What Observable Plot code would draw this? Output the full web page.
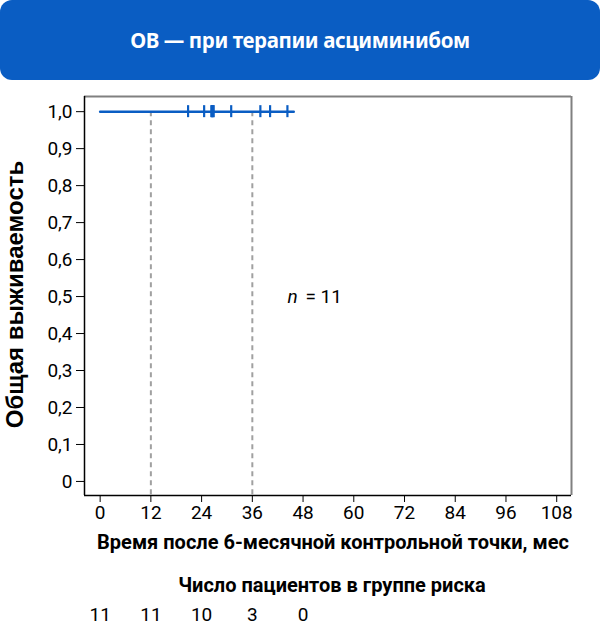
<!DOCTYPE html>
<html>
<head>
<meta charset="utf-8">
<script src="https://cdn.jsdelivr.net/npm/d3@7"></script>
<script src="https://cdn.jsdelivr.net/npm/@observablehq/plot@0.6"></script>
<style>
  html, body { margin: 0; padding: 0; background: #fff; }
  #wrap { position: relative; width: 600px; height: 629px; overflow: hidden; }
  #header {
    position: absolute; left: 0; top: 0; width: 600px; height: 80px;
    background: #0a5dc3; border-radius: 12px;
    display: flex; align-items: center; justify-content: center;
    color: #fff; font-family: "Noto Sans", sans-serif; font-weight: 700; font-size: 20.5px;
    letter-spacing: -0.4px;
  }
  #chart { position: absolute; left: 0; top: 80px; }
</style>
</head>
<body>
<div id="wrap">
  <div id="header">ОВ — при терапии асциминибом</div>
  <div id="chart"></div>
</div>
<script>
const titleText = "ОВ — при терапии асциминибом";
const yLabel = "Общая выживаемость";
const xLabel = "Время после 6-месячной контрольной точки, мес";
const riskLabel = "Число пациентов в группе риска";

const xTicks = [0, 12, 24, 36, 48, 60, 72, 84, 96, 108];
const yTicks = [0, 0.1, 0.2, 0.3, 0.4, 0.5, 0.6, 0.7, 0.8, 0.9, 1.0];
const yTickLabels = ["0", "0,1", "0,2", "0,3", "0,4", "0,5", "0,6", "0,7", "0,8", "0,9", "1,0"];

const curveTime = [0, 45.8];
const curveSurv = [1, 1];
const censorTimes = [20.8, 24.6, 26.3, 26.5, 26.5, 26.8, 26.8, 31.0, 37.9, 40.2, 44.3];
const refLines = [12, 36];

const riskTimes = [0, 12, 24, 36, 48];
const riskCounts = [11, 11, 10, 3, 0];

const nLabel = "n";
const nValue = "= 11";
const nPos = {x: 44.3, y: 0.5};

const xDomain = [-3.7, 111.5];
const yDomain = [-0.038, 1.041];

const blue = "#0a5dc3";
const curve = curveTime.map((t, i) => ({t, s: curveSurv[i]}));
const risk = riskTimes.map((t, i) => ({t, n: riskCounts[i]}));

const plot = Plot.plot({
  width: 600,
  height: 549,
  marginLeft: 84,
  marginRight: 29,
  marginTop: 16,
  marginBottom: 134,
  style: {fontFamily: "Roboto, sans-serif", color: "black", background: "white", overflow: "visible"},
  x: {domain: xDomain},
  y: {domain: yDomain},
  marks: [
    Plot.ruleX(refLines, {x: d => d, y1: 1, y2: yDomain[0], stroke: "#a0a0a0", strokeWidth: 2, strokeDasharray: "5,4"}),
    Plot.line(curve, {x: "t", y: "s", curve: "step-after", stroke: blue, strokeWidth: 2.5}),
    Plot.ruleX(censorTimes, {x: d => d, y1: 1, y2: 1, insetTop: -6, insetBottom: -6, stroke: blue, strokeWidth: 2.2}),
    Plot.ruleY([yDomain[1]], {stroke: "#808080", strokeWidth: 2}),
    Plot.ruleX([xDomain[1]], {stroke: "#808080", strokeWidth: 2}),
    Plot.ruleX([xDomain[0]], {stroke: "black", strokeWidth: 1.5}),
    Plot.ruleY([yDomain[0]], {stroke: "black", strokeWidth: 1.5}),
    Plot.axisY({ticks: yTicks, tickFormat: d => yTickLabels[yTicks.indexOf(d)], tickSize: 8, tickPadding: 4, fontSize: 19, label: null}),
    Plot.axisX({ticks: xTicks, tickSize: 7, tickPadding: 3, fontSize: 19, label: null}),
    Plot.text([nPos], {x: "x", y: "y", text: () => nLabel, textAnchor: "start", fontSize: 19, fontStyle: "italic"}),
    Plot.text([nPos], {x: "x", y: "y", text: () => nValue, textAnchor: "start", dx: 18, fontSize: 19}),
    Plot.text([yLabel], {frameAnchor: "left", rotate: -90, dx: -69, dy: -1.5, fontWeight: "bold", fontSize: 24, fontFamily: "Liberation Sans, Arial, sans-serif", textAnchor: "middle"}),
    Plot.text([xLabel], {frameAnchor: "bottom", dy: 53, dx: 5, fontWeight: "bold", fontSize: 20}),
    Plot.text([riskLabel], {frameAnchor: "bottom", dy: 96, dx: 4, fontWeight: "bold", fontSize: 20}),
    Plot.text(risk, {x: "t", frameAnchor: "bottom", text: d => String(d.n), dy: 125, fontSize: 19})
  ]
});
document.getElementById("chart").appendChild(plot);
</script>
</body>
</html>
